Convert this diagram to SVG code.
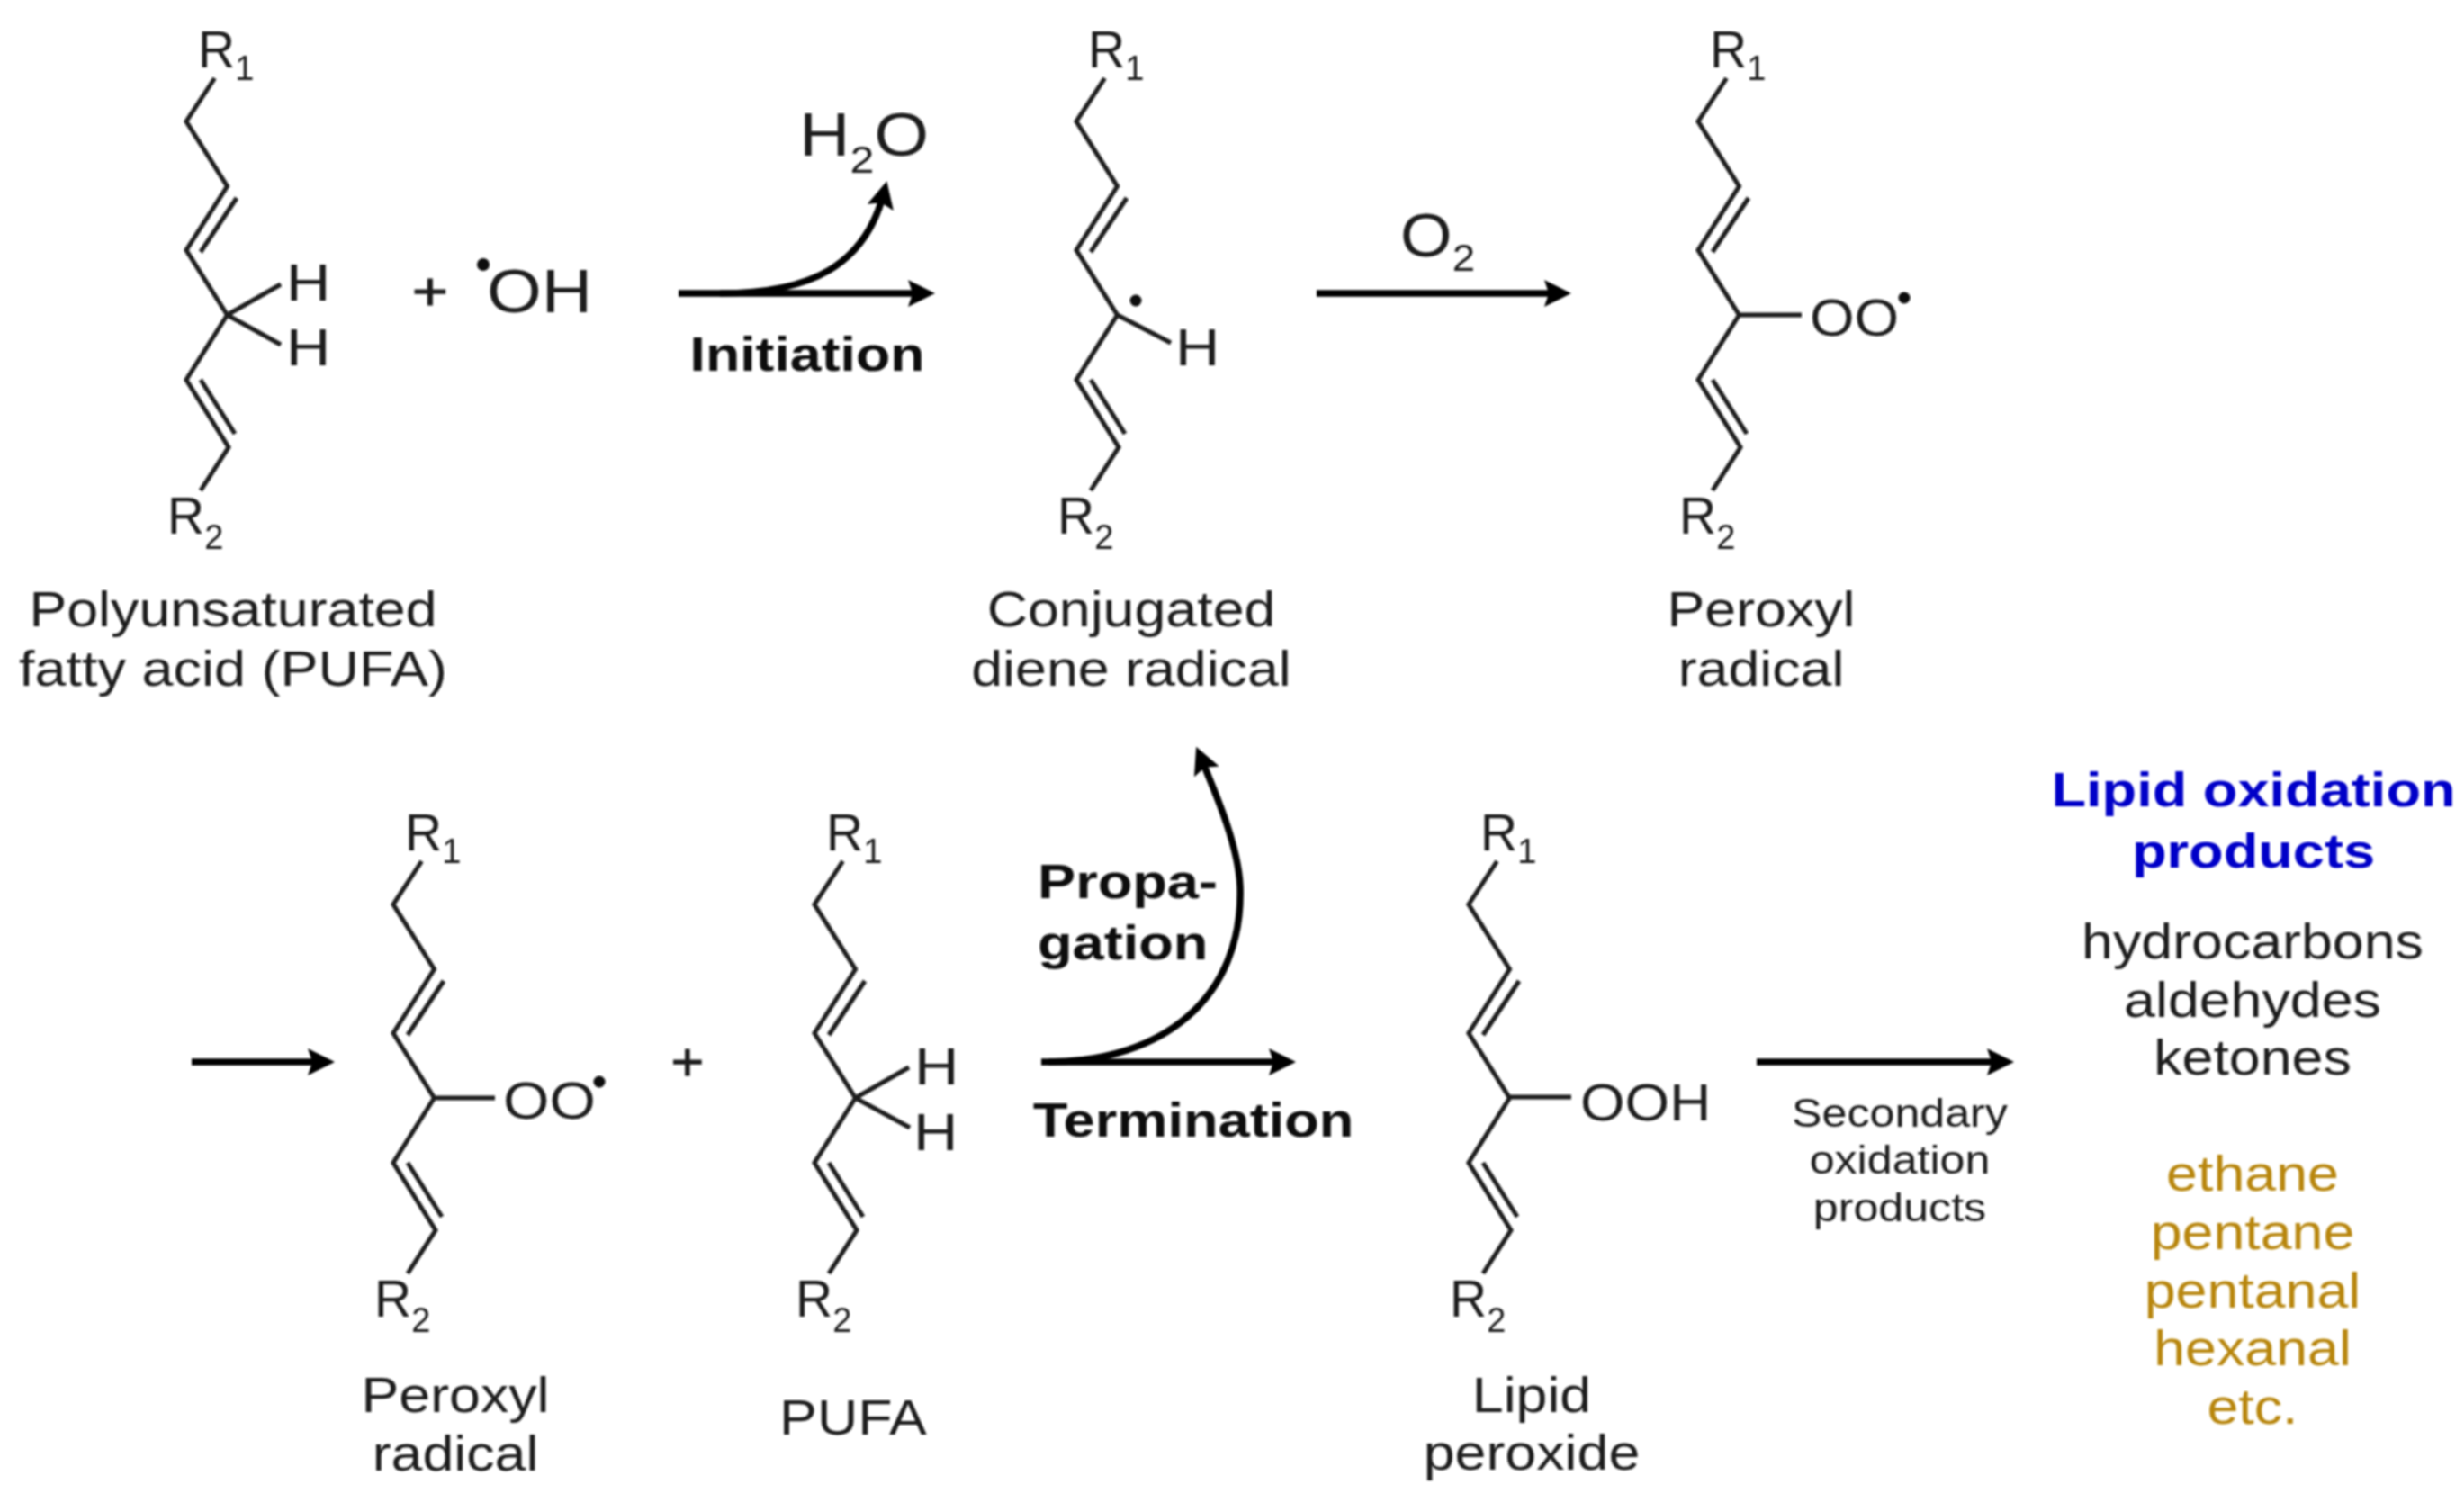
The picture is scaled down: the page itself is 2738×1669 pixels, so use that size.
<svg xmlns="http://www.w3.org/2000/svg" width="2738" height="1669" viewBox="0 0 2738 1669">
<style>
text{font-family:"Liberation Sans",Arial,sans-serif;fill:#1c1c1c}
.lab{font-size:56px;text-anchor:middle}
.bold{font-size:54px;font-weight:700;text-anchor:middle;fill:#111}
.blue{fill:#0505c8}
.gold{fill:#b8860b}
.sm{font-size:44px;text-anchor:middle}
.atom{font-size:58px}
.rgroup{font-size:57px}
.big{font-size:68px}
.sub{font-size:38px}
.plus{font-size:60px;text-anchor:middle;stroke:#1c1c1c;stroke-width:1}
.bond{fill:none;stroke:#1c1c1c;stroke-width:5;stroke-linejoin:miter}
.arrow{fill:none;stroke:#000;stroke-width:7.5}
.dot{fill:#111}
</style>
<defs>
<marker id="head" markerUnits="userSpaceOnUse" markerWidth="34" markerHeight="34" refX="20" refY="15" orient="auto"><path d="M0 0L30 15L0 30L5 15Z" fill="#000"/></marker>
<g id="chain">
<path class="bond" d="M238.500 87L207 135L252.500 207L207 278L252.500 350L207 422L254 497L223 545"/>
<path class="bond" d="M263 220L223 280M223 422L261 482"/>
<text class="rgroup" x="220" y="75">R<tspan class="sub" dy="14">1</tspan></text>
<text class="rgroup" x="186" y="593">R<tspan class="sub" dy="17">2</tspan></text>
</g>
<filter id="soft" x="0" y="0" width="100%" height="100%"><feGaussianBlur stdDeviation="1"/></filter>
</defs>
<rect width="2738" height="1669" fill="#fff"/>
<g filter="url(#soft)">
<g id="connectors">
<path class="arrow" d="M754 326H1029" marker-end="url(#head)"/>
<path class="arrow" d="M800 326C900 326 962 296 983 211" marker-end="url(#head)"/>
<path class="arrow" d="M1463 326H1736" marker-end="url(#head)"/>
<path class="arrow" d="M213 1180H362" marker-end="url(#head)"/>
<path class="arrow" d="M1157 1180H1430" marker-end="url(#head)"/>
<path class="arrow" d="M1165 1180C1290 1180 1382 1110 1378 985C1376 940 1352 884 1333 839" marker-end="url(#head)"/>
<path class="arrow" d="M1952 1180H2228" marker-end="url(#head)"/>
</g>
<g id="pufa">
<use href="#chain"/>
<path class="bond" d="M252.500 350L312 316M252.500 350L312 383"/>
<text class="atom" transform="translate(318 334) scale(1.18 1)">H</text>
<text class="atom" transform="translate(318 406) scale(1.18 1)">H</text>
<text class="lab" transform="translate(259 696) scale(1.12 1)">Polyunsaturated</text>
<text class="lab" transform="translate(259 762) scale(1.125 1)">fatty acid (PUFA)</text>
</g>
<g id="hydroxyl">
<text class="plus" transform="translate(478 344) scale(1.15 1)">+</text>
<circle class="dot" cx="537" cy="294" r="7"/>
<text class="big" transform="translate(541 347) scale(1.15 1)">OH</text>
</g>
<g id="water">
<text class="big" transform="translate(888 173) scale(1.15 1)">H<tspan dy="19" style="font-size:42px">2</tspan><tspan dy="-19">O</tspan></text>
</g>
<g id="initiation-label"><text class="bold" transform="translate(897 412) scale(1.16 1)">Initiation</text></g>
<g id="diene-radical">
<use href="#chain" x="989"/>
<circle class="dot" cx="1262" cy="334" r="6.500"/>
<path class="bond" d="M1241.500 350L1301 381"/>
<text class="atom" transform="translate(1306 406) scale(1.18 1)">H</text>
<text class="lab" transform="translate(1257 696) scale(1.12 1)">Conjugated</text>
<text class="lab" transform="translate(1257 762) scale(1.12 1)">diene radical</text>
</g>
<g id="o2"><text class="big" transform="translate(1556 285) scale(1.09 1)">O<tspan dy="16" style="font-size:42px">2</tspan></text></g>
<g id="peroxyl-1">
<use href="#chain" x="1680"/>
<path class="bond" d="M1932.500 350L2002 350"/>
<text class="atom" transform="translate(2011 373) scale(1.1 1)">OO</text>
<circle class="dot" cx="2116" cy="331" r="6.500"/>
<text class="lab" transform="translate(1957 696) scale(1.12 1)">Peroxyl</text>
<text class="lab" transform="translate(1957 762) scale(1.12 1)">radical</text>
</g>
<g id="peroxyl-2">
<use href="#chain" x="230" y="870"/>
<path class="bond" d="M482.500 1220L550 1220"/>
<text class="atom" transform="translate(559 1243) scale(1.14 1)">OO</text>
<circle class="dot" cx="666" cy="1202" r="6.500"/>
<text class="lab" transform="translate(506 1569) scale(1.12 1)">Peroxyl</text>
<text class="lab" transform="translate(506 1634) scale(1.12 1)">radical</text>
</g>
<g id="plus-2"><text class="plus" transform="translate(764 1200) scale(1.05 1)">+</text></g>
<g id="pufa-2">
<use href="#chain" x="698" y="870"/>
<path class="bond" d="M950.500 1220L1010 1186M950.500 1220L1011 1253"/>
<text class="atom" transform="translate(1016 1205) scale(1.18 1)">H</text>
<text class="atom" transform="translate(1015 1278) scale(1.18 1)">H</text>
<text class="lab" transform="translate(948 1594) scale(1.12 1)">PUFA</text>
</g>
<g id="propagation-label">
<text class="bold" style="text-anchor:start" transform="translate(1153 998) scale(1.17 1)">Propa-</text>
<text class="bold" style="text-anchor:start" transform="translate(1153 1066) scale(1.17 1)">gation</text>
</g>
<g id="termination-label"><text class="bold" transform="translate(1326 1263) scale(1.17 1)">Termination</text></g>
<g id="lipid-peroxide">
<use href="#chain" x="1425" y="870"/>
<path class="bond" d="M1677.500 1219L1746 1219"/>
<text class="atom" transform="translate(1756 1245) scale(1.1 1)">OOH</text>
<text class="lab" transform="translate(1702 1569) scale(1.12 1)">Lipid</text>
<text class="lab" transform="translate(1702 1633) scale(1.12 1)">peroxide</text>
</g>
<g id="secondary-label">
<text class="sm" transform="translate(2111 1252) scale(1.14 1)">Secondary</text>
<text class="sm" transform="translate(2111 1304) scale(1.14 1)">oxidation</text>
<text class="sm" transform="translate(2111 1357) scale(1.14 1)">products</text>
</g>
<g id="products">
<text class="bold blue" transform="translate(2504 896) scale(1.17 1)">Lipid oxidation</text>
<text class="bold blue" transform="translate(2504 964) scale(1.17 1)">products</text>
<text class="lab" transform="translate(2503 1065) scale(1.12 1)">hydrocarbons</text>
<text class="lab" transform="translate(2503 1130) scale(1.12 1)">aldehydes</text>
<text class="lab" transform="translate(2503 1194) scale(1.12 1)">ketones</text>
<text class="lab gold" transform="translate(2503 1323) scale(1.12 1)">ethane</text>
<text class="lab gold" transform="translate(2503 1388) scale(1.12 1)">pentane</text>
<text class="lab gold" transform="translate(2503 1453) scale(1.12 1)">pentanal</text>
<text class="lab gold" transform="translate(2503 1517) scale(1.12 1)">hexanal</text>
<text class="lab gold" transform="translate(2503 1582) scale(1.12 1)">etc.</text>
</g>
</g>
</svg>
